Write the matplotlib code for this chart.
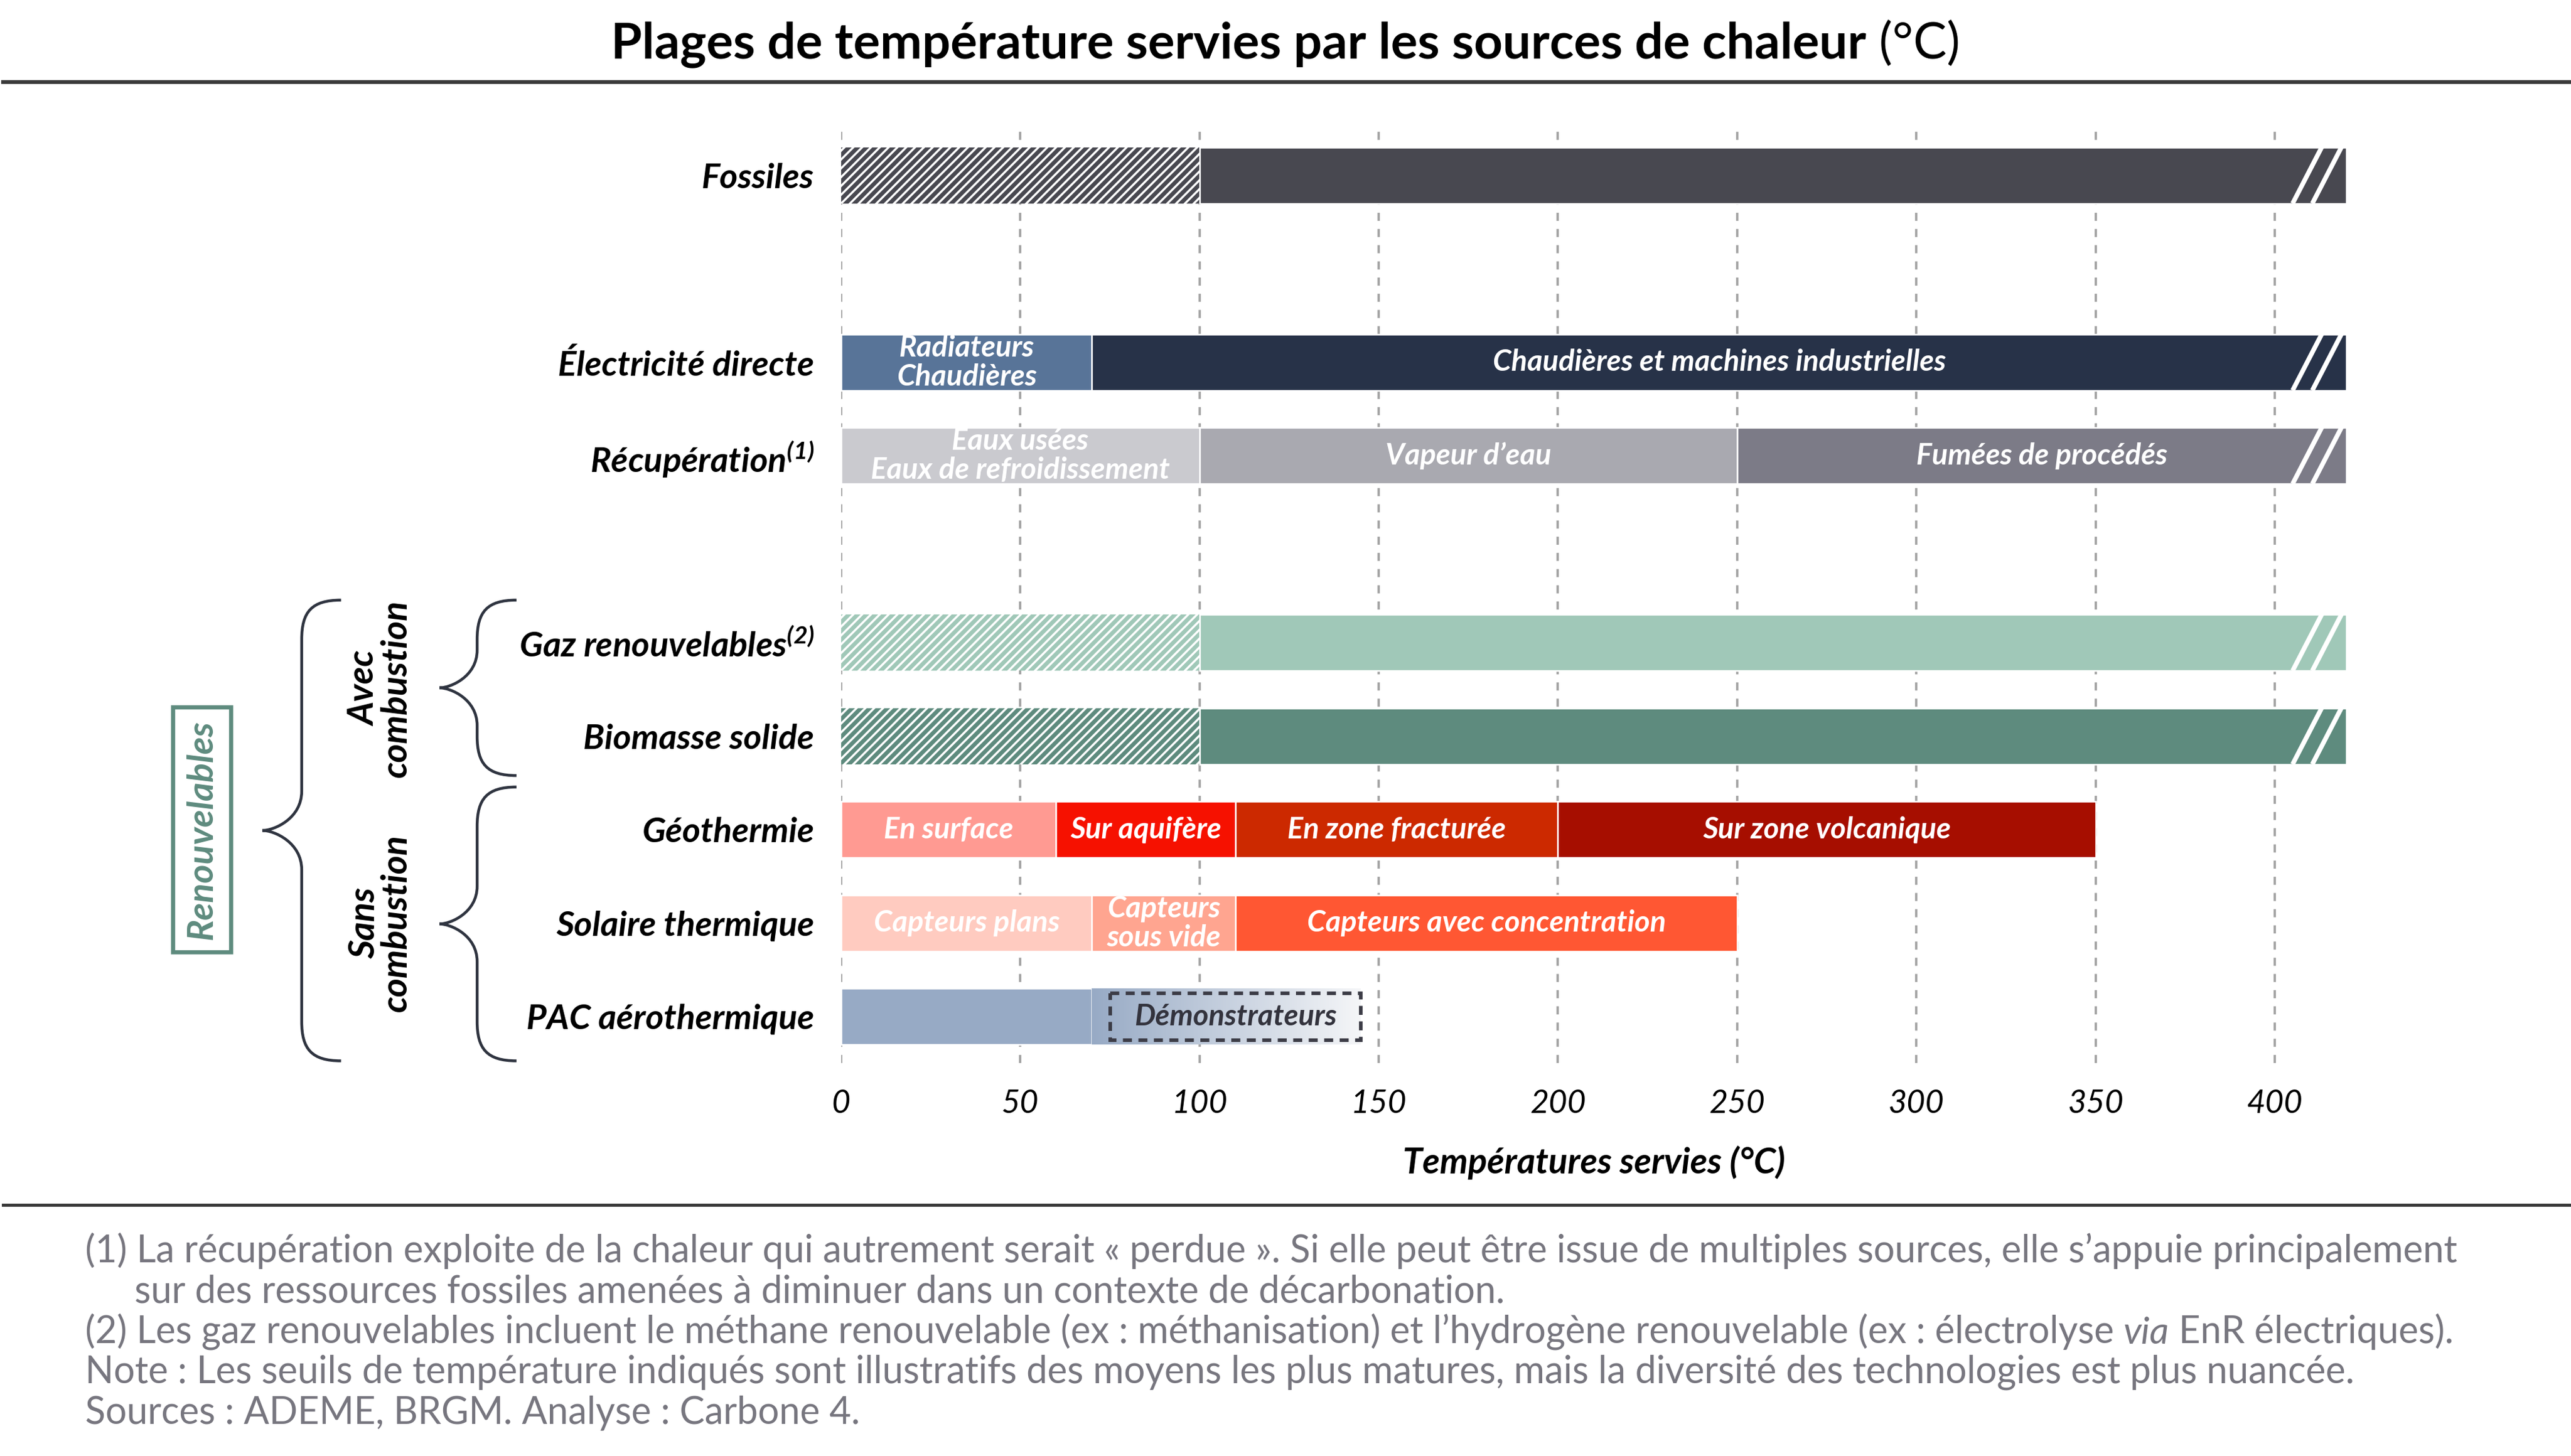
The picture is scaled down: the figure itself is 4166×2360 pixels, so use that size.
import matplotlib.pyplot as plt
import numpy as np
from matplotlib.patches import Rectangle, PathPatch
from matplotlib.path import Path
from matplotlib.colors import LinearSegmentedColormap

plt.rcParams['font.family'] = ['Lato', 'DejaVu Sans']
plt.rcParams['mathtext.fontset'] = 'custom'
plt.rcParams['mathtext.bf'] = 'Lato:bold:italic'
plt.rcParams['hatch.linewidth'] = 1.6

# --- data -------------------------------------------------------------
categories = ['Fossiles', 'Électricité directe', r'Récupération$^{\mathbf{(1)}}$',
              r'Gaz renouvelables$^{\mathbf{(2)}}$', 'Biomasse solide', 'Géothermie',
              'Solaire thermique', 'PAC aérothermique']
row_pos = [0, 2, 3, 5, 6, 7, 8, 9]
open_ended = [True, True, True, True, True, False, False, False]
x_max = 420

seg_row = [0, 0, 1, 1, 2, 2, 2, 3, 3, 4, 4, 5, 5, 5, 5, 6, 6, 6, 7, 7]
seg_start = [0, 100, 0, 70, 0, 100, 250, 0, 100, 0, 100, 0, 60, 110, 200, 0, 70, 110, 0, 70]
seg_end = [100, 420, 70, 420, 100, 250, 420, 100, 420, 100, 420, 60, 110, 200, 350, 70, 110, 250, 70, 145]
seg_color = ['#484850', '#484850', '#587498', '#273248', '#CACACF', '#A9A9B0', '#7C7B87',
             '#A0C8B8', '#A0C8B8', '#5E8B7E', '#5E8B7E',
             '#FF9A92', '#F61100', '#CC2900', '#A60E00',
             '#FFCBC0', '#FFA590', '#FF5733', '#97AAC5', '#97AAC5']
seg_kind = ['hatch', 'solid', 'solid', 'solid', 'solid', 'solid', 'solid',
            'hatch', 'solid', 'hatch', 'solid', 'solid', 'solid', 'solid', 'solid',
            'solid', 'solid', 'solid', 'solid', 'demo']
seg_label = ['', '', 'Radiateurs\nChaudières', 'Chaudières et machines industrielles',
             'Eaux usées\nEaux de refroidissement', 'Vapeur d’eau', 'Fumées de procédés',
             '', '', '', '', 'En surface', 'Sur aquifère', 'En zone fracturée',
             'Sur zone volcanique', 'Capteurs plans', 'Capteurs\nsous vide',
             'Capteurs avec concentration', '', 'Démonstrateurs']
demo_box = (75, 145)

xticks = [0, 50, 100, 150, 200, 250, 300, 350, 400]

title_main = 'Plages de température servies par les sources de chaleur'
notes = [
    '(1) La récupération exploite de la chaleur qui autrement serait « perdue ». Si elle peut être issue de multiples sources, elle s’appuie principalement',
    'sur des ressources fossiles amenées à diminuer dans un contexte de décarbonation.',
    'Note : Les seuils de température indiqués sont illustratifs des moyens les plus matures, mais la diversité des technologies est plus nuancée.',
    'Sources : ADEME, BRGM. Analyse : Carbone 4.',
]

# --- figure -----------------------------------------------------------
fig = plt.figure(figsize=(4166 / 300, 2360 / 300), dpi=300)
ax = fig.add_axes([513 / 1568, 1 - 648.5 / 888, (1431 - 513) / 1568, (648.5 - 78.5) / 888])

bh = 0.6
for i in range(len(seg_row)):
    y = row_pos[seg_row[i]]
    x0, x1, c = seg_start[i], seg_end[i], seg_color[i]
    if seg_kind[i] == 'hatch':
        ax.barh(y, x1 - x0, left=x0, height=bh, color='white', edgecolor=c,
                hatch='///////', linewidth=0, zorder=2)
    elif seg_kind[i] == 'solid':
        ax.barh(y, x1 - x0, left=x0, height=bh, color=c, edgecolor='white',
                linewidth=0.6, zorder=2)
    else:
        cmap = LinearSegmentedColormap.from_list('demo', [c, '#F5F6F8'])
        ax.imshow(np.linspace(0, 1, 256).reshape(1, -1), cmap=cmap, aspect='auto',
                  extent=[x0, x1, y + bh / 2, y - bh / 2], interpolation='bicubic', zorder=2)
        ax.add_patch(Rectangle((demo_box[0], y - 0.25), demo_box[1] - demo_box[0], 0.5,
                               fill=False, ec='#3C3C46', lw=1.4, ls=(0, (2.5, 1.8)), zorder=3))
    if seg_label[i]:
        tc = '#33333D' if seg_kind[i] == 'demo' else 'white'
        cx = (demo_box[0] + demo_box[1]) / 2 if seg_kind[i] == 'demo' else (x0 + x1) / 2
        ax.text(cx, y, seg_label[i], ha='center', va='center', color=tc, fontsize=11.5,
                fontweight='bold', fontstyle='italic', linespacing=1.08, zorder=5)

# break marks on open-ended bars
for k, y in enumerate(row_pos):
    if open_ended[k]:
        for dx in (0, 5.5):
            ax.plot([x_max - 15 + dx, x_max - 6.5 + dx], [y + bh / 2, y - bh / 2 - 0.03],
                    color='white', lw=1.8, zorder=4, clip_on=False, solid_capstyle='butt')

ax.set_ylim(9.5, -0.5)
ax.set_xlim(0, x_max)
ax.set_xticks(xticks)
ax.set_xticklabels([str(t) for t in xticks], fontsize=12.5, fontstyle='italic')
ax.set_yticks(row_pos)
ax.set_yticklabels(categories, fontsize=13.5, fontweight='bold', fontstyle='italic')
ax.tick_params(axis='x', length=0, pad=10)
ax.tick_params(axis='y', length=0, pad=10.5)
ax.set_xlabel('Températures servies (°C)', fontsize=13.8, fontweight='bold',
              fontstyle='italic', labelpad=10.5)
for s in ax.spines.values():
    s.set_visible(False)
ax.set_axisbelow(True)
ax.grid(axis='x', color='#A3A3A3', ls=(0, (3.5, 3.5)), lw=0.9, zorder=0)

# --- overlay for layout elements (pixel coords of the 1568x888 view) --
ov = fig.add_axes([0, 0, 1, 1])
ov.set_xlim(0, 1568)
ov.set_ylim(888, 0)
ov.axis('off')
ov.patch.set_alpha(0)

ov.plot([2, 1568], [50, 50], color='#3A3A3A', lw=1.5)
ov.plot([2, 1568], [735, 735], color='#3A3A3A', lw=1.2)

t1 = ov.text(0, 27, title_main, fontsize=19.5, fontweight='bold', va='center', ha='left')
t2 = ov.annotate(' (°C)', xy=(1, 0.5), xycoords=t1, fontsize=19.5, va='center', ha='left')
fig.canvas.draw()
scale = 1568 / fig.bbox.width
w = (t1.get_window_extent().width + t2.get_window_extent().width) * scale
t1.set_x(784 - w / 2)


def brace(x_end, x_stem, x_tip, y_top, y_bot):
    ym = (y_top + y_bot) / 2
    r = x_end - x_stem
    k = x_stem - x_tip
    verts = [(x_end, y_top),
             (x_stem + r * 0.25, y_top), (x_stem, y_top + r * 0.3), (x_stem, y_top + r),
             (x_stem, ym - k),
             (x_stem, ym - k * 0.3), (x_tip + k * 0.3, ym), (x_tip, ym),
             (x_tip + k * 0.3, ym), (x_stem, ym + k * 0.3), (x_stem, ym + k),
             (x_stem, y_bot - r),
             (x_stem, y_bot - r * 0.3), (x_stem + r * 0.25, y_bot), (x_end, y_bot)]
    codes = [Path.MOVETO] + [Path.CURVE4] * 3 + [Path.LINETO] + [Path.CURVE4] * 6 + \
            [Path.LINETO] + [Path.CURVE4] * 3
    ov.add_patch(PathPatch(Path(verts, codes), fill=False, ec='#2F3440', lw=1.1))


brace(208, 184, 160, 366, 647)
brace(315, 291, 268, 366, 473)
brace(315, 291, 268, 480, 647)

ov.text(123, 506, 'Renouvelables', rotation=90, ha='center', va='center', color='#5E8B7E',
        fontsize=14, fontweight='bold', fontstyle='italic',
        bbox=dict(boxstyle='square,pad=0.35', fc='white', ec='#5E8B7E', lw=1.6))
ov.text(232, 420, 'Avec\ncombustion', rotation=90, ha='center', va='center',
        multialignment='center', fontsize=14, fontweight='bold', fontstyle='italic',
        linespacing=0.95)
ov.text(232, 563, 'Sans\ncombustion', rotation=90, ha='center', va='center',
        multialignment='center', fontsize=14, fontweight='bold', fontstyle='italic',
        linespacing=0.95)

nc = '#77767F'
nfs = 14.6
ov.text(52, 763, notes[0], fontsize=nfs, color=nc, va='center', ha='left')
ov.text(82, 788, notes[1], fontsize=nfs, color=nc, va='center', ha='left')
n2a = ov.text(52, 812, '(2) Les gaz renouvelables incluent le méthane renouvelable '
                       '(ex : méthanisation) et l’hydrogène renouvelable (ex : électrolyse ',
              fontsize=nfs, color=nc, va='center', ha='left')
n2b = ov.annotate('via', xy=(1, 0), xycoords=n2a, fontsize=nfs, color=nc, va='bottom',
                  ha='left', fontstyle='italic')
ov.annotate(' EnR électriques).', xy=(1, 0), xycoords=n2b, fontsize=nfs, color=nc,
            va='bottom', ha='left')
ov.text(52, 837, notes[2], fontsize=nfs, color=nc, va='center', ha='left')
ov.text(52, 862, notes[3], fontsize=nfs, color=nc, va='center', ha='left')

fig.savefig('out.png', dpi=300)
